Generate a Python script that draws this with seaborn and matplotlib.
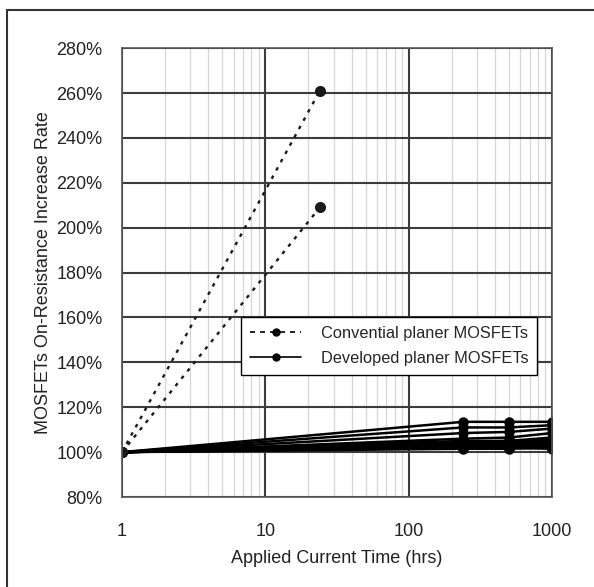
import numpy as np
import pandas as pd
import matplotlib
matplotlib.use("Agg")
import matplotlib.pyplot as plt
import seaborn as sns
from matplotlib.lines import Line2D
from matplotlib.ticker import FuncFormatter, LogLocator

sns.set_style("white")
plt.rcParams['font.family'] = ['Liberation Sans', 'DejaVu Sans']

# --- data ---
conv_hours = [1, 24]
conv_values = [
    [100, 261],
    [100, 209],
]
dev_hours = [1, 240, 500, 1000]
dev_values = [
    [100, 113.5, 113.5, 113.5],
    [100, 111.0, 111.0, 112.0],
    [100, 108.5, 109.0, 110.5],
    [100, 106.0, 106.5, 108.5],
    [100, 105.0, 105.0, 106.5],
    [100, 104.5, 104.0, 105.5],
    [100, 104.0, 104.0, 104.5],
    [100, 103.5, 103.5, 104.0],
    [100, 103.0, 103.0, 103.5],
    [100, 102.5, 102.5, 103.0],
    [100, 102.0, 102.0, 102.5],
    [100, 103.0, 102.0, 101.5],
    [100, 104.0, 103.0, 102.0],
    [100, 102.5, 103.0, 106.0],
    [100, 101.5, 101.5, 102.0],
    [100, 104.5, 105.0, 105.0],
    [100, 103.5, 104.5, 104.5],
]
legend_labels = ["Convential planer MOSFETs", "Developed planer MOSFETs"]
x_ticks = [1, 10, 100, 1000]
y_ticks = [80, 100, 120, 140, 160, 180, 200, 220, 240, 260, 280]

rows = []
for i, vals in enumerate(conv_values):
    for h, v in zip(conv_hours, vals):
        rows.append(dict(hours=h, rate=v, unit=f"c{i}", kind=legend_labels[0]))
for i, vals in enumerate(dev_values):
    for h, v in zip(dev_hours, vals):
        rows.append(dict(hours=h, rate=v, unit=f"d{i}", kind=legend_labels[1]))
df = pd.DataFrame(rows)

fig = plt.figure(figsize=(5.94, 5.87), dpi=100)
ax = fig.add_axes([0.2054, 0.1533, 0.7239, 0.7647])

ax.set_xscale("log")
ax.set_xlim(1, 1000)
ax.set_ylim(80, 280)

# grids
ax.xaxis.set_minor_locator(LogLocator(base=10, subs=np.arange(2, 10)))
ax.set_xticks(x_ticks)
ax.set_yticks(y_ticks)
ax.grid(which="minor", axis="x", color="#d6d6d6", linewidth=0.9)
ax.grid(which="major", axis="both", color="#3c3c3c", linewidth=1.5)
ax.set_axisbelow(True)

conv = df[df.kind == legend_labels[0]]
dev = df[df.kind == legend_labels[1]]
sns.lineplot(data=dev, x="hours", y="rate", units="unit", estimator=None,
             color="black", linewidth=1.8, marker="o", markersize=7.5,
             markeredgewidth=0, ax=ax, legend=False)
sns.lineplot(data=conv, x="hours", y="rate", units="unit", estimator=None,
             color="#1a1a1a", linewidth=1.7, marker="o", markersize=8,
             markeredgewidth=0, ax=ax, legend=False)
for ln in ax.lines[-len(conv_values):]:
    ln.set_dashes([1.5, 2.5])

ax.xaxis.set_major_formatter(FuncFormatter(lambda v, p: f"{v:g}"))
ax.xaxis.set_minor_formatter(FuncFormatter(lambda v, p: ""))
ax.yaxis.set_major_formatter(FuncFormatter(lambda v, p: f"{v:.0f}%"))
ax.tick_params(axis="both", which="both", length=0, labelsize=13, colors="#222222")
ax.tick_params(axis="x", pad=19)
ax.tick_params(axis="y", pad=14)

for s in ax.spines.values():
    s.set_color("#555555")
    s.set_linewidth(1.2)

ax.set_xlabel("Applied Current Time (hrs)", fontsize=13, color="#222222", labelpad=7)
ax.set_ylabel("MOSFETs On-Resistance Increase Rate", fontsize=13, color="#222222", labelpad=3)

handles = [
    Line2D([0, 0.5, 1], [0, 0, 0], color="black", linestyle=(0, (3, 3)), linewidth=1.2,
           marker="o", markersize=5, markevery=[1]),
    Line2D([0, 0.5, 1], [0, 0, 0], color="black", linestyle="-", linewidth=1.2,
           marker="o", markersize=5, markevery=[1]),
]
leg = ax.legend(handles, legend_labels, loc="upper left",
                bbox_to_anchor=(0.277, 0.401), fontsize=11.8, frameon=True,
                fancybox=False, edgecolor="black", framealpha=1,
                handlelength=3.1, borderpad=0.55, labelspacing=0.6,
                handletextpad=1.2, borderaxespad=0)
leg.get_frame().set_linewidth(1.0)

# figure border (left and top)
fig.add_artist(Line2D([7 / 594, 7 / 594], [0, 1 - 10 / 587], transform=fig.transFigure,
                      color="#333333", linewidth=1.5))
fig.add_artist(Line2D([7 / 594, 1], [1 - 10 / 587, 1 - 10 / 587], transform=fig.transFigure,
                      color="#333333", linewidth=1.5))

fig.savefig("out.png", dpi=100)
